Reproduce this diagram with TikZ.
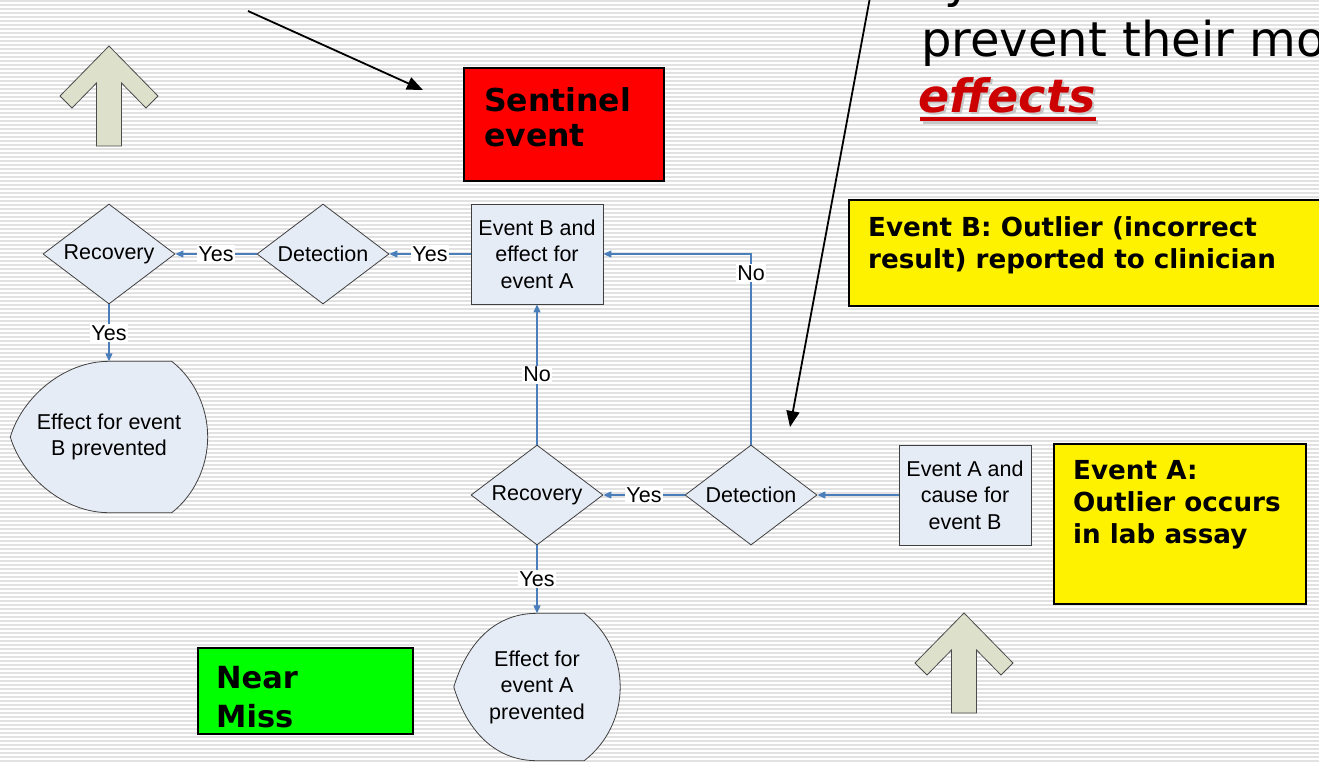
\documentclass[tikz,border=0pt]{standalone}
\usepackage{fontspec}
\setmainfont{Liberation Sans}
\newfontfamily\vfont{DejaVu Sans}
\usetikzlibrary{arrows.meta, shapes.geometric, positioning, calc}
\definecolor{boxblue}{RGB}{230,236,246}
\definecolor{lineblue}{RGB}{74,126,187}
\definecolor{stripegray}{RGB}{226,226,226}
\definecolor{arrowkhaki}{RGB}{221,224,203}
\definecolor{darkred}{RGB}{204,0,0}
\pgfdeclarelayer{paper}
\pgfdeclarelayer{shapes}
\pgfsetlayers{paper,shapes,main}
\tikzset{blockup/.pic={
  \draw[fill=arrowkhaki, draw=black!70, line width=0.8pt] (0,0) -- (49,50) -- (37,62) -- (12.5,37) -- (12.5,100)
    -- (-12.5,100) -- (-12.5,37) -- (-37,62) -- (-49,50) -- cycle;}}

\begin{document}
\begin{tikzpicture}[x=1pt, y=-1pt, >={Triangle[length=8pt,width=7pt]}, node distance=214pt]
\tikzstyle{every node}=[font=\fontsize{21.5}{26.5}\selectfont]
\tikzstyle{box}=[rectangle, draw=black!75, fill=boxblue, line width=0.8pt, minimum width=132pt, minimum height=100pt, align=center, inner sep=2pt]
\tikzstyle{decision}=[diamond, aspect=1.32, draw=black!75, fill=boxblue, line width=0.8pt, minimum width=132pt, minimum height=100pt, inner sep=0pt]
\tikzstyle{effect}=[rectangle, align=center]
\tikzstyle{outline}=[draw=black!75, fill=boxblue, line width=0.8pt]
\tikzstyle{flow}=[->, color=lineblue, line width=1.1pt]
\tikzstyle{lbl}=[fill=white, inner sep=1.5pt, text=black]
\tikzstyle{tag}=[rectangle, draw=black, line width=1.5pt, anchor=north west, inner sep=0pt]
\tikzstyle{tagtext}=[font=\vfont\bfseries\fontsize{26.2}{32}\selectfont, align=left, anchor=north west, inner sep=0pt]
\tikzstyle{bigtext}=[font=\vfont\fontsize{48}{58}\selectfont, anchor=base west, inner sep=0pt]
\tikzstyle{pointer}=[-{Triangle[length=16pt,width=13pt]}, line width=1.8pt]

\useasboundingbox (0,0) rectangle (1319,761);

% striped paper
\begin{pgfonlayer}{paper}
\fill[white] (0,0) rectangle (1319,761);
\foreach \sy in {1,5,...,761}
  \draw[stripegray, line width=1.5pt] (0,\sy) -- (1319,\sy);
\end{pgfonlayer}

\pic at (109,46) {blockup};
\pic at (964,613) {blockup};

% text at the top right
\node[bigtext] (prevy) at (944,-3) {y};
\node[bigtext] (prevline) at (921,56) {prevent their mo};
\node[bigtext, font=\vfont\bfseries\itshape\fontsize{46}{56}\selectfont, text=gray!45] (effshadow) at (920.5,114.5) {effects};
\fill[gray!45] ($(effshadow.base west)+(2,5)$) rectangle ($(effshadow.base east)+(0,9)$);
\fill[darkred] ($(effshadow.base west)+(-0.5,2.5)$) rectangle ($(effshadow.base east)+(-2.5,6.5)$);
\node[bigtext, font=\vfont\bfseries\itshape\fontsize{46}{56}\selectfont, text=darkred] (effword) at (918,112) {effects};

% coloured notes
\node[tag, fill=red, minimum width=200pt, minimum height=113pt] (sentinel) at (463,67) {};
\node[tagtext, font=\vfont\bfseries\fontsize{31.5}{35}\selectfont] (sentineltext) at ($(sentinel.north west)+(21,20)$) {Sentinel\\event};
\node[tag, fill=green, minimum width=215pt, minimum height=86pt] (nearmiss) at (197,647) {};
\node[tagtext, font=\vfont\bfseries\fontsize{30.5}{39}\selectfont] (nearmisstext) at ($(nearmiss.north west)+(19,19)$) {Near\\Miss};
\node[tag, fill=yellow, minimum width=474pt, minimum height=106pt] (notebox) at (848,199) {};
\node[tagtext] (notetext) at ($(notebox.north west)+(20,17)$) {Event B: Outlier (incorrect\\result) reported to clinician};
\node[tag, fill=yellow, minimum width=252pt, minimum height=160pt] (noteabox) at (1053,443) {};
\node[tagtext] (noteatext) at ($(noteabox.north west)+(20,17)$) {Event A:\\Outlier occurs\\in lab assay};

% pointers
\coordinate (ptrAstart) at (248,11);
\coordinate (ptrAend) at (423,90);
\coordinate (ptrBstart) at (871,-8);
\coordinate (ptrBend) at (790,427);
\draw[pointer] (ptrAstart) -- (ptrAend);
\draw[pointer] (ptrBstart) -- (ptrBend);

% flowchart
\node[decision] (recA) at (537,495) {Recovery};
\node[decision] (detA) [right of=recA] {Detection};
\node[box] (evA) [right of=detA] {Event A and\\cause for\\event B};
\node[box] (evB) [above of=recA, node distance=241pt] {Event B and\\effect for\\event A};
\node[decision] (detB) [left of=evB] {Detection};
\node[decision] (recB) [left of=detB] {Recovery};
\node[effect, minimum width=166pt, minimum height=147pt] (effA) [below of=recA, node distance=192pt] {Effect for\\event A\\prevented};
\node[effect, minimum width=197pt, minimum height=151pt] (effB) [below of=recB, node distance=183pt] {Effect for event\\B prevented};

\begin{pgfonlayer}{shapes}
\foreach \e in {effA, effB}
  \draw[outline] (\e.west) .. controls +(12,-40) and +(-45,0) .. (\e.north)
    -- ($(\e.north east)+(-36,0)$) .. controls +(22,17) and +(0,-30) .. (\e.east)
    .. controls +(0,30) and +(22,-17) .. ($(\e.south east)+(-36,0)$)
    -- (\e.south) .. controls +(-45,0) and +(12,40) .. (\e.west) -- cycle;
\end{pgfonlayer}

\path[flow]
(evA)  edge                   (detA)
(detA) edge node[lbl]{Yes}    (recA)
(recA) edge node[lbl]{Yes}    (effA)
       edge node[lbl]{No}     (evB)
(evB)  edge node[lbl]{Yes}    (detB)
(detB) edge node[lbl]{Yes}    (recB)
(recB) edge node[lbl]{Yes}    (effB);
\draw[flow] (detA) |- node[lbl, pos=0.45]{No} (evB);
\end{tikzpicture}
\end{document}
